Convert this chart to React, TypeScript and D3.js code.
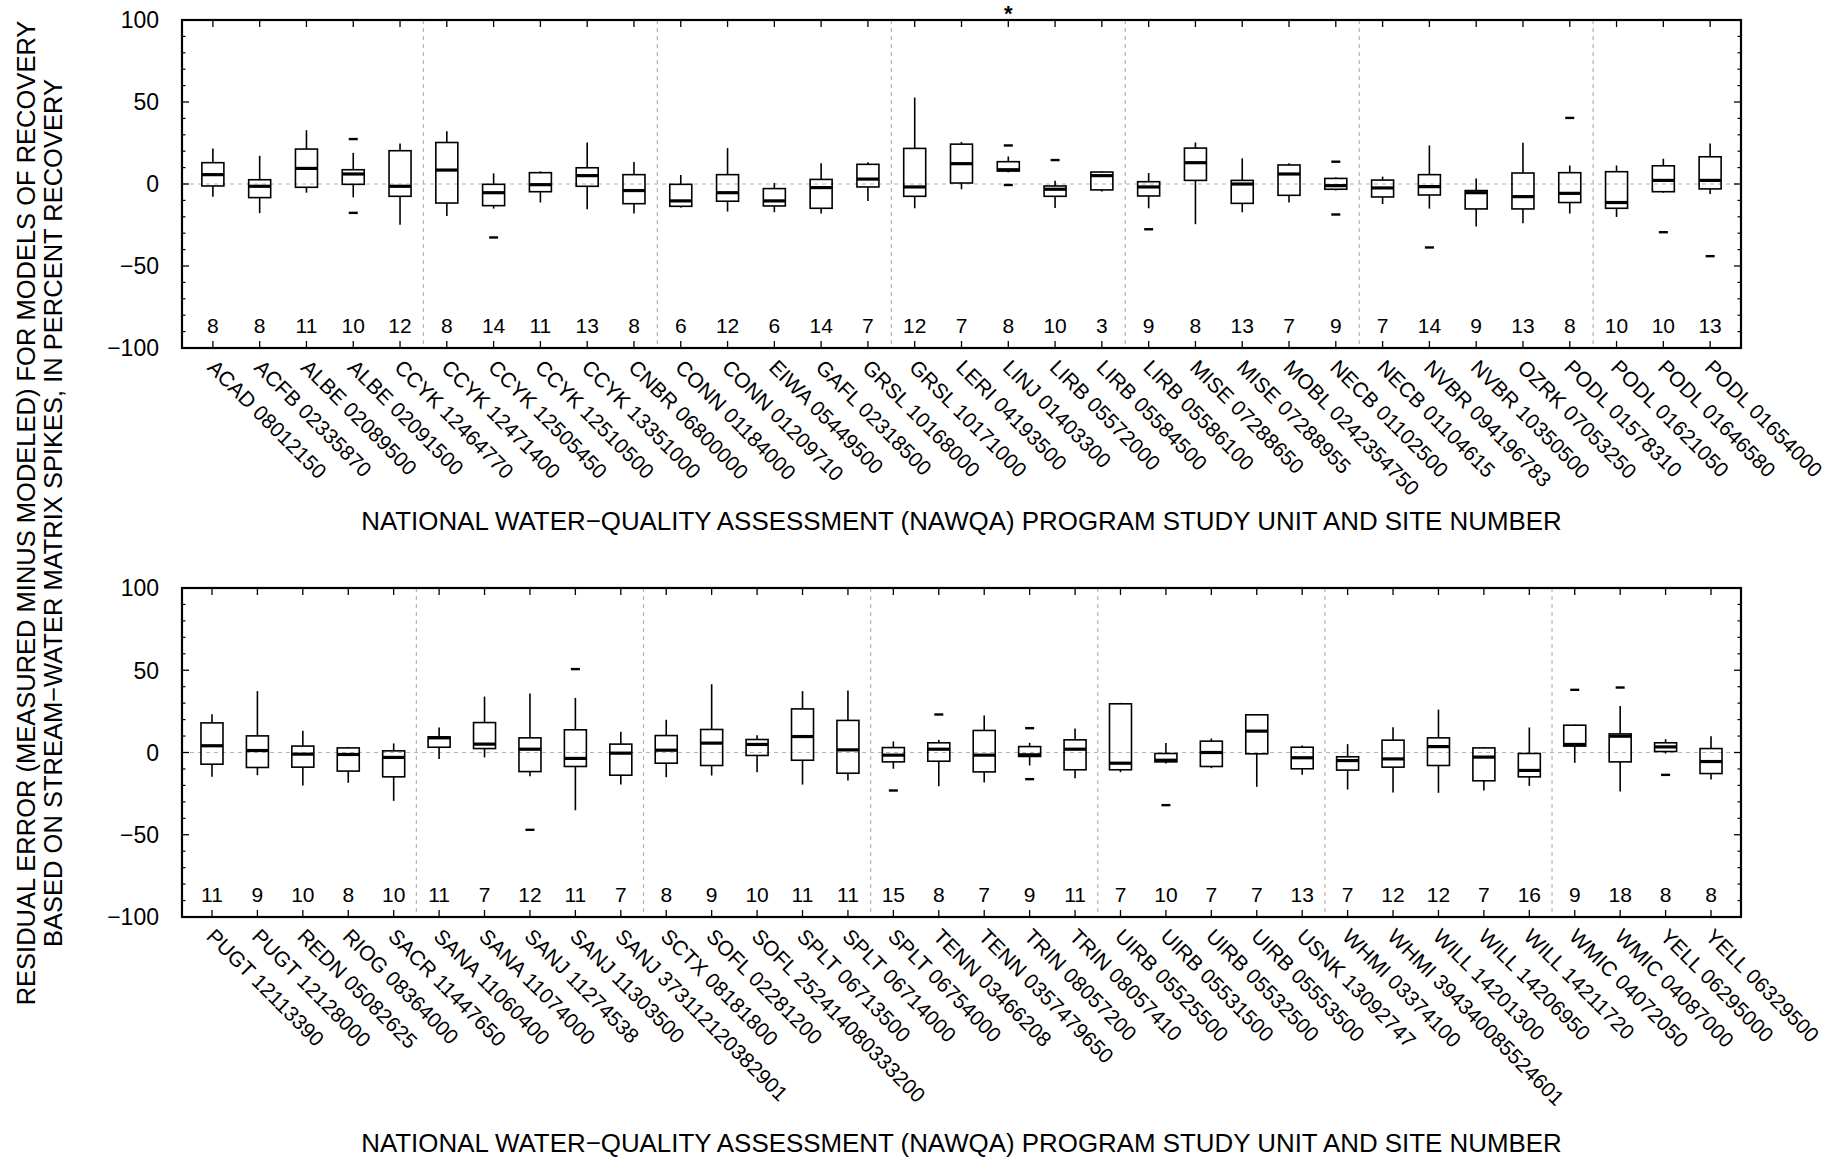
import React from "react";
import * as d3 from "d3";

// ---------- DATA ----------
const topLabels = [
  "ACAD 08012150", "ACFB 02335870", "ALBE 02089500", "ALBE 02091500", "CCYK 12464770",
  "CCYK 12471400", "CCYK 12505450", "CCYK 12510500", "CCYK 13351000", "CNBR 06800000",
  "CONN 01184000", "CONN 01209710", "EIWA 05449500", "GAFL 02318500", "GRSL 10168000",
  "GRSL 10171000", "LERI 04193500", "LINJ 01403300", "LIRB 05572000", "LIRB 05584500",
  "LIRB 05586100", "MISE 07288650", "MISE 07288955", "MOBL 0242354750", "NECB 01102500",
  "NECB 01104615", "NVBR 094196783", "NVBR 10350500", "OZRK 07053250", "PODL 01578310",
  "PODL 01621050", "PODL 01646580", "PODL 01654000",
];
const topN = [8, 8, 11, 10, 12, 8, 14, 11, 13, 8, 6, 12, 6, 14, 7, 12, 7, 8, 10, 3, 9, 8, 13, 7, 9, 7, 14, 9, 13, 8, 10, 10, 13];
const topLo = [-7.7, -17.8, -5.3, -8.1, -24.9, -19.5, -15, -11.3, -15.4, -18, -14.4, -16.8, -17.2, -18, -10.3, -14.8, -3.2, 7.1, -14.6, -4.5, -14.8, -24.5, -17.2, -11.3, -4, -12.2, -15, -25.9, -23.9, -18, -20.1, -5.3, -6.1];
const topQ1 = [-1.2, -8.3, -2, -0.2, -7.5, -11.6, -13.2, -4.7, -1.4, -12, -13.6, -10.5, -13.4, -14.8, -1.8, -7.5, 0.6, 7.9, -7.5, -3.6, -7.3, 2.2, -11.8, -6.9, -3.2, -7.9, -6.7, -15.2, -15.2, -11.3, -14.8, -4.7, -3];
const topMed = [5.7, -1.4, 9.5, 6.1, -1.4, 8.5, -5.3, -0.4, 5.1, -4, -10.3, -5.3, -10.3, -2.2, 3, -1.8, 12.4, 8.7, -3.2, 5.1, -1.8, 13, 0, 6.1, -1, -2.4, -1.6, -5.3, -7.7, -5.7, -11.3, 2.2, 2.2];
const topQ3 = [13, 2.6, 21.3, 8.7, 20.3, 25.3, -0.2, 6.9, 9.9, 5.7, -0.2, 5.7, -2.8, 2.8, 12, 21.7, 24.3, 13.6, -1.2, 7.3, 1.4, 21.9, 2.2, 11.6, 3.4, 2.4, 5.7, -4, 6.7, 6.9, 7.5, 11.1, 16.6];
const topHi = [21.7, 17.2, 32.8, 19, 24.7, 32.2, 6.5, 7.7, 25.3, 13.4, 5.5, 21.9, 0.6, 12.6, 13.2, 52.7, 25.7, 16.8, 2, 7.7, 6.7, 25.3, 15.6, 12.6, 4.1, 4.5, 23.5, 3.4, 25.1, 11.3, 11.3, 15.4, 24.7];
const topOutliers: number[][] = [
  [], [], [], [27.4, -17.6], [], [], [-32.6], [], [], [],
  [], [], [], [], [], [], [], [23.5, -0.6], [14.6], [],
  [-27.6], [], [], [], [13.6, -18.6], [], [-38.7], [], [], [40.3],
  [], [-29.4], [-44],
];
const topOffscale = ["LINJ 01403300"];

const botLabels = [
  "PUGT 12113390", "PUGT 12128000", "REDN 05082625", "RIOG 08364000", "SACR 11447650",
  "SANA 11060400", "SANA 11074000", "SANJ 11274538", "SANJ 11303500", "SANJ 373112120382901",
  "SCTX 08181800", "SOFL 02281200", "SOFL 252414080333200", "SPLT 06713500", "SPLT 06714000",
  "SPLT 06754000", "TENN 03466208", "TENN 0357479650", "TRIN 08057200", "TRIN 08057410",
  "UIRB 05525500", "UIRB 05531500", "UIRB 05532500", "UIRB 05553500", "USNK 13092747",
  "WHMI 03374100", "WHMI 394340085524601", "WILL 14201300", "WILL 14206950", "WILL 14211720",
  "WMIC 04072050", "WMIC 04087000", "YELL 06295000", "YELL 06329500",
];
const botN = [11, 9, 10, 8, 10, 11, 7, 12, 11, 7, 8, 9, 10, 11, 11, 15, 8, 7, 9, 11, 7, 10, 7, 7, 13, 7, 12, 12, 7, 16, 9, 18, 8, 8];
const botLo = [-14.8, -13.8, -20.1, -18.4, -29.4, -3.9, -3, -14.4, -35.1, -19.5, -15, -14, -12, -19.5, -17, -9.9, -20.5, -18.2, -7.9, -15.6, -12, -6.7, -9.5, -20.9, -13.6, -22.5, -24.3, -24.5, -23.1, -20.3, -6.3, -23.7, -0.6, -16.4];
const botQ1 = [-7.1, -9.1, -8.9, -11.3, -14.8, 3.2, 2.4, -11.6, -8.5, -13.8, -6.5, -7.9, -1.8, -4.7, -12.6, -5.7, -5.3, -11.8, -2.4, -10.5, -10.5, -5.7, -8.5, -0.8, -9.9, -10.7, -8.9, -7.9, -17.2, -14.8, 3.9, -5.7, 0.6, -12.8];
const botMed = [4.1, 1.2, -1, -1.2, -3, 8.9, 5.1, 2, -3.6, -0.4, 1.4, 5.7, 4.9, 9.7, 1.6, -1.6, 2, -1.6, -1.4, 2, -6.5, -4.7, 0, 13, -3.2, -4.9, -3.9, 3.6, -2.8, -10.9, 4.9, 9.9, 3.4, -5.5];
const botQ3 = [18, 10.1, 3.9, 2.8, 1, 9.5, 18.2, 8.9, 13.8, 5.1, 10.3, 14, 7.9, 26.5, 19.5, 3, 5.9, 13.4, 3.6, 7.7, 29.6, -0.6, 6.9, 22.9, 3.2, -2.6, 7.5, 8.9, 2.8, -0.6, 16.6, 11.3, 5.9, 2.4];
const botHi = [23.3, 37.3, 13.2, 3.4, 5.5, 15.2, 34, 35.9, 33.2, 12.6, 19.9, 41.5, 10.5, 37.3, 37.7, 6.7, 7.7, 22.5, 5.9, 14.6, 30.2, 5.7, 8.5, 23.3, 4.3, 5.1, 15.4, 26.1, 3.4, 15.2, 17, 28.2, 8.1, 9.9];
const botOutliers: number[][] = [
  [], [], [], [], [], [], [], [-47], [50.7], [],
  [], [], [], [], [], [-23.1], [23.1], [], [14.8, -16.2], [],
  [], [-32], [], [], [], [], [], [], [], [],
  [38.1], [39.5], [-13.6], [],
];
const botOffscale: string[] = [];

const yTicksMajor = [100, 50, 0, -50, -100];
const yTicksMinor = [90, 80, 70, 60, 40, 30, 20, 10, -10, -20, -30, -40, -60, -70, -80, -90];
const xTitle = "NATIONAL WATER\u2212QUALITY ASSESSMENT (NAWQA) PROGRAM STUDY UNIT AND SITE NUMBER";
const yTitle1 = "RESIDUAL ERROR (MEASURED MINUS MODELED) FOR MODELS OF RECOVERY";
const yTitle2 = "BASED ON STREAM\u2212WATER MATRIX SPIKES, IN PERCENT RECOVERY";

// ---------- LAYOUT ----------
const W = 1839;
const H = 1160;
const LEFT = 182;
const RIGHT = 1741;
const FONT = "'Liberation Sans', Arial, Helvetica, sans-serif";
const GRID = "#b4b4b4";

type PanelProps = {
  top: number;
  bottom: number;
  labels: string[];
  n: number[];
  lo: number[];
  q1: number[];
  med: number[];
  q3: number[];
  hi: number[];
  outliers: number[][];
  offscale: string[];
  titleY: number;
};

function fmt(v: number) {
  return v < 0 ? "\u2212" + Math.abs(v) : String(v);
}

function Panel(p: PanelProps) {
  const k = p.labels.length;
  const pad = 0.66;
  const x = d3.scaleLinear().domain([1 - pad, k + pad]).range([LEFT, RIGHT]);
  const y = d3.scaleLinear().domain([-100, 100]).range([p.bottom, p.top]);
  const bw = 22;
  const idx = d3.range(k);
  const seps = d3.range(5.5, k, 5);
  return (
    <g>
      {/* grid lines */}
      <line x1={LEFT} x2={RIGHT} y1={y(0)} y2={y(0)} stroke={GRID} strokeWidth={1.2} strokeDasharray="4,4" />
      {seps.map((s) => (
        <line key={"s" + s} x1={x(s)} x2={x(s)} y1={p.top} y2={p.bottom} stroke={GRID} strokeWidth={1.2} strokeDasharray="4,4" />
      ))}
      {/* y ticks */}
      {yTicksMajor.map((t) => (
        <g key={"M" + t}>
          <line x1={LEFT} x2={LEFT + 7} y1={y(t)} y2={y(t)} stroke="#000" strokeWidth={1.3} />
          <line x1={RIGHT} x2={RIGHT - 7} y1={y(t)} y2={y(t)} stroke="#000" strokeWidth={1.3} />
          <text x={159} y={y(t)} dy="0.36em" textAnchor="end" fontSize={23} fontFamily={FONT}>
            {fmt(t)}
          </text>
        </g>
      ))}
      {yTicksMinor.map((t) => (
        <g key={"m" + t}>
          <line x1={LEFT} x2={LEFT + 3.5} y1={y(t)} y2={y(t)} stroke="#000" strokeWidth={1.2} />
          <line x1={RIGHT} x2={RIGHT - 3.5} y1={y(t)} y2={y(t)} stroke="#000" strokeWidth={1.2} />
        </g>
      ))}
      {/* x ticks */}
      {idx.map((i) => (
        <g key={"xt" + i}>
          <line x1={x(i + 1)} x2={x(i + 1)} y1={p.bottom} y2={p.bottom - 7} stroke="#000" strokeWidth={1.3} />
          <line x1={x(i + 1)} x2={x(i + 1)} y1={p.top} y2={p.top + 7} stroke="#000" strokeWidth={1.3} />
        </g>
      ))}
      {/* boxes */}
      {idx.map((i) => {
        const cx = x(i + 1);
        return (
          <g key={"b" + i}>
            <line x1={cx} x2={cx} y1={y(p.hi[i])} y2={y(p.q3[i])} stroke="#000" strokeWidth={1.6} />
            <line x1={cx} x2={cx} y1={y(p.q1[i])} y2={y(p.lo[i])} stroke="#000" strokeWidth={1.6} />
            <rect x={cx - bw / 2} y={y(p.q3[i])} width={bw} height={Math.max(0.5, y(p.q1[i]) - y(p.q3[i]))} fill="none" stroke="#000" strokeWidth={1.6} />
            <line x1={cx - bw / 2} x2={cx + bw / 2} y1={y(p.med[i])} y2={y(p.med[i])} stroke="#000" strokeWidth={3.2} />
            {p.outliers[i].map((o, j) => (
              <line key={j} x1={cx - 4.5} x2={cx + 4.5} y1={y(o)} y2={y(o)} stroke="#000" strokeWidth={2.4} />
            ))}
            {p.offscale.includes(p.labels[i]) && (
              <text x={cx} y={p.top + 0.5} textAnchor="middle" fontSize={22} fontWeight="bold" fontFamily={FONT}>
                *
              </text>
            )}
            <text x={cx} y={y(-86.2)} dy="0.36em" textAnchor="middle" fontSize={21} fontFamily={FONT}>
              {p.n[i]}
            </text>
            <text
              transform={`translate(${cx + 4},${p.bottom + 10}) rotate(45)`}
              dy="0.72em"
              textAnchor="start"
              fontSize={21}
              fontFamily={FONT}
            >
              {p.labels[i]}
            </text>
          </g>
        );
      })}
      {/* frame */}
      <rect x={LEFT} y={p.top} width={RIGHT - LEFT} height={p.bottom - p.top} fill="none" stroke="#000" strokeWidth={2.2} />
      {/* x title */}
      <text x={(LEFT + RIGHT) / 2} y={p.titleY} dy="0.36em" textAnchor="middle" fontSize={25.9} fontFamily={FONT}>
        {xTitle}
      </text>
    </g>
  );
}

export default function App() {
  return (
    <svg width={W} height={H} style={{ position: "absolute", left: 0, top: 0, background: "#fff" }}>
      <rect x={0} y={0} width={W} height={H} fill="#fff" />
      <Panel
        top={20}
        bottom={348}
        labels={topLabels}
        n={topN}
        lo={topLo}
        q1={topQ1}
        med={topMed}
        q3={topQ3}
        hi={topHi}
        outliers={topOutliers}
        offscale={topOffscale}
        titleY={521}
      />
      <Panel
        top={588}
        bottom={917}
        labels={botLabels}
        n={botN}
        lo={botLo}
        q1={botQ1}
        med={botMed}
        q3={botQ3}
        hi={botHi}
        outliers={botOutliers}
        offscale={botOffscale}
        titleY={1143}
      />
      <g transform="translate(26,513) rotate(-90)">
        <text x={0} y={0} dy="0.36em" textAnchor="middle" fontSize={25.5} fontFamily={FONT}>
          {yTitle1}
        </text>
        <text x={0} y={27} dy="0.36em" textAnchor="middle" fontSize={25.5} fontFamily={FONT}>
          {yTitle2}
        </text>
      </g>
    </svg>
  );
}
